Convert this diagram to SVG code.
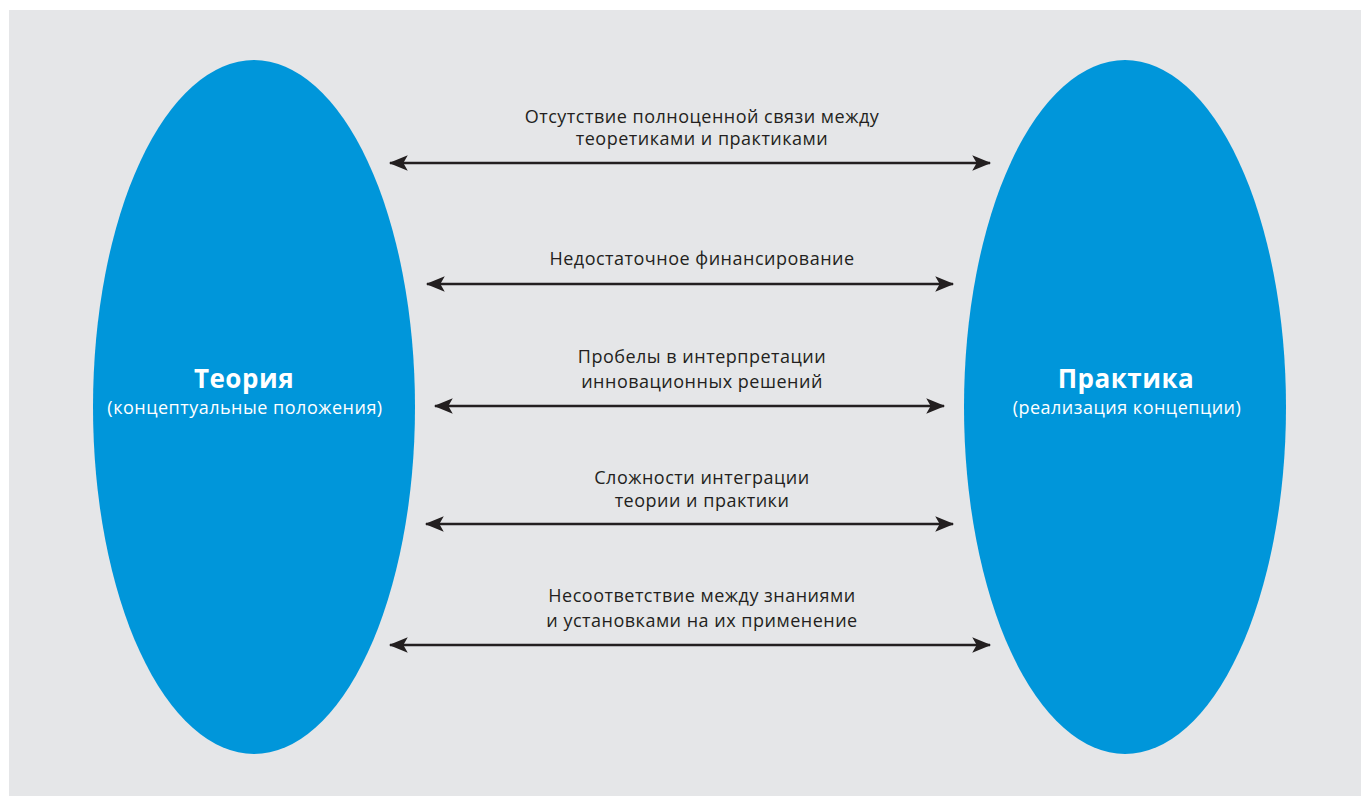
<svg xmlns="http://www.w3.org/2000/svg" width="1361" height="796" viewBox="0 0 1361 796">
<style>
.bg{fill:#e5e6e8}
.node{fill:#0096da}
.title{font-family:"Open Sans","Liberation Sans",sans-serif;font-weight:bold;font-size:26px;letter-spacing:0.5px;fill:#fff;text-anchor:middle}
.sub{font-family:"Open Sans","Liberation Sans",sans-serif;font-size:18px;letter-spacing:0.5px;fill:#fff;text-anchor:middle}
.lbl{font-family:"Open Sans","Liberation Sans",sans-serif;font-size:18px;letter-spacing:0.5px;fill:#231f20;text-anchor:middle}
.conn{stroke:#231f20;stroke-width:2.5;fill:none;marker-start:url(#ah);marker-end:url(#ah)}
</style>
<defs>
<marker id="ah" markerUnits="userSpaceOnUse" markerWidth="20" markerHeight="20" viewBox="0 -8 18 16" refX="16" refY="0" orient="auto-start-reverse">
<path d="M0,-7 L17,0 L0,7 L4,0 Z" fill="#231f20"/>
</marker>
</defs>
<rect class="bg" x="9" y="10" width="1352" height="786"/>
<g id="theory">
<ellipse class="node" cx="254" cy="407" rx="161" ry="347"/>
<text class="title" x="244" y="388">Теория</text>
<text class="sub" x="245" y="414">(концептуальные положения)</text>
</g>
<g id="practice">
<ellipse class="node" cx="1125" cy="407" rx="161" ry="347"/>
<text class="title" x="1126" y="388">Практика</text>
<text class="sub" x="1127" y="414">(реализация концепции)</text>
</g>
<g id="connectors">
<line class="conn" x1="390" y1="163" x2="990" y2="163"/>
<line class="conn" x1="427" y1="284" x2="953" y2="284"/>
<line class="conn" x1="435" y1="406" x2="944" y2="406"/>
<line class="conn" x1="426" y1="524" x2="953" y2="524"/>
<line class="conn" x1="390" y1="645" x2="990" y2="645"/>
</g>
<g id="labels">
<text class="lbl" x="702" y="123">Отсутствие полноценной связи между</text>
<text class="lbl" x="702" y="145">теоретиками и практиками</text>
<text class="lbl" x="702" y="265">Недостаточное финансирование</text>
<text class="lbl" x="702" y="363">Пробелы в интерпретации</text>
<text class="lbl" x="702" y="388">инновационных решений</text>
<text class="lbl" x="702" y="484">Сложности интеграции</text>
<text class="lbl" x="702" y="507">теории и практики</text>
<text class="lbl" x="702" y="602">Несоответствие между знаниями</text>
<text class="lbl" x="702" y="627">и установками на их применение</text>
</g>
</svg>
